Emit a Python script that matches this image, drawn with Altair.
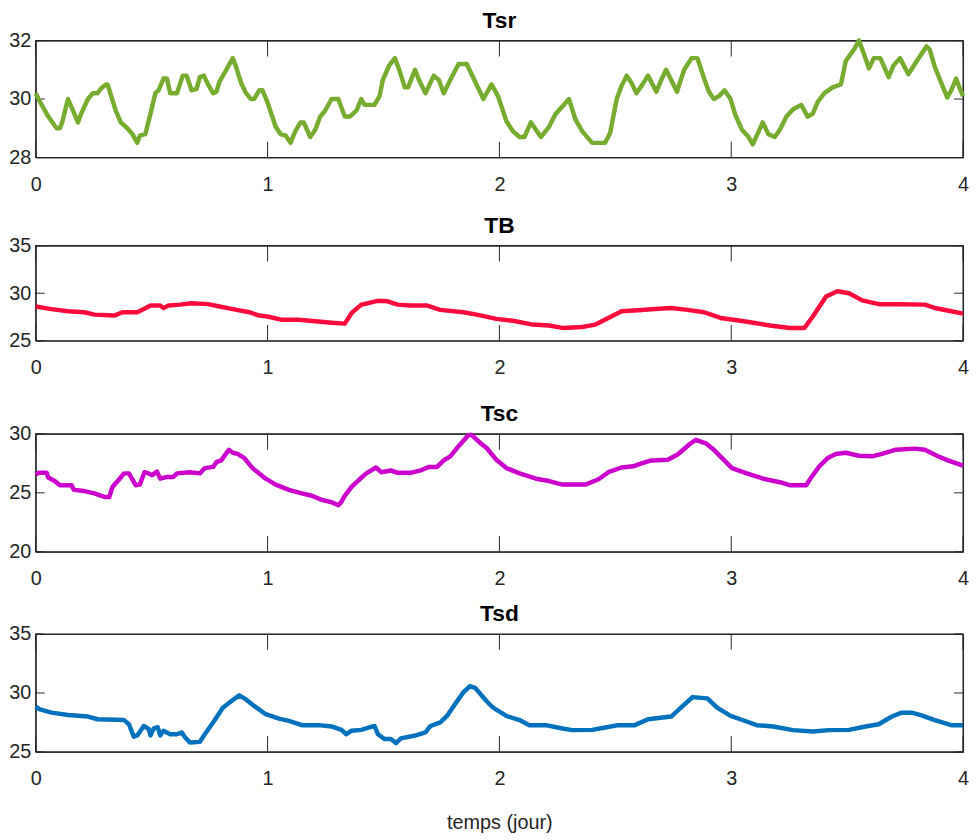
import altair as alt
import pandas as pd

# ---------------- data (time in days, temperature) ----------------
t_tsr = [0.000, 0.012, 0.054, 0.090, 0.104, 0.114, 0.139, 0.161, 0.182, 0.196, 0.225, 0.246, 0.267, 0.281,
         0.303, 0.310, 0.345, 0.367, 0.395, 0.417, 0.438, 0.449, 0.473, 0.495, 0.516, 0.530, 0.551, 0.566,
         0.580, 0.609, 0.634, 0.651, 0.672, 0.694, 0.708, 0.725, 0.743, 0.765, 0.779, 0.793, 0.822, 0.836,
         0.850, 0.864, 0.886, 0.907, 0.928, 0.942, 0.964, 0.978, 0.999, 1.020, 1.035, 1.056, 1.078, 1.099,
         1.120, 1.142, 1.156, 1.184, 1.206, 1.227, 1.248, 1.276, 1.305, 1.333, 1.355, 1.383, 1.404, 1.419,
         1.461, 1.483, 1.497, 1.525, 1.549, 1.568, 1.592, 1.606, 1.636, 1.653, 1.681, 1.717, 1.739, 1.760,
         1.788, 1.824, 1.859, 1.895, 1.931, 1.966, 1.994, 2.030, 2.058, 2.087, 2.108, 2.136, 2.179, 2.214,
         2.243, 2.278, 2.300, 2.328, 2.357, 2.400, 2.456, 2.478, 2.506, 2.527, 2.549, 2.570, 2.591, 2.613,
         2.641, 2.677, 2.698, 2.719, 2.741, 2.766, 2.797, 2.829, 2.854, 2.883, 2.904, 2.925, 2.947, 2.971,
         2.997, 3.018, 3.046, 3.075, 3.093, 3.113, 3.136, 3.160, 3.188, 3.210, 3.238, 3.267, 3.302, 3.330,
         3.352, 3.373, 3.402, 3.437, 3.473, 3.494, 3.530, 3.551, 3.572, 3.594, 3.615, 3.643, 3.679, 3.700,
         3.728, 3.764, 3.792, 3.842, 3.856, 3.878, 3.906, 3.932, 3.949, 3.970, 3.984, 4.000]
v_tsr = [30.2, 30.0, 29.4, 29.0, 29.0, 29.2, 30.0, 29.6, 29.2, 29.5, 30.0, 30.2, 30.2, 30.35,
         30.5, 30.5, 29.6, 29.2, 29.0, 28.8, 28.5, 28.75, 28.8, 29.5, 30.2, 30.3, 30.7, 30.7,
         30.2, 30.2, 30.8, 30.8, 30.3, 30.35, 30.75, 30.8, 30.5, 30.2, 30.25, 30.6, 31.0, 31.2,
         31.4, 31.1, 30.55, 30.2, 30.0, 30.0, 30.3, 30.3, 29.9, 29.4, 29.05, 28.8, 28.75, 28.5,
         28.9, 29.2, 29.2, 28.7, 28.95, 29.4, 29.6, 30.0, 30.0, 29.4, 29.4, 29.6, 30.0, 29.8,
         29.8, 30.1, 30.65, 31.15, 31.4, 31.0, 30.4, 30.4, 31.0, 30.65, 30.2, 30.8, 30.65, 30.2,
         30.65, 31.2, 31.2, 30.6, 30.0, 30.5, 30.1, 29.25, 28.9, 28.7, 28.7, 29.2, 28.7, 29.05,
         29.5, 29.8, 30.0, 29.3, 28.9, 28.5, 28.5, 28.85, 30.0, 30.45, 30.8, 30.55, 30.2, 30.45,
         30.8, 30.25, 30.65, 31.0, 30.65, 30.25, 31.0, 31.4, 31.4, 30.7, 30.25, 30.0, 30.1, 30.3,
         30.0, 29.45, 28.95, 28.7, 28.45, 28.8, 29.2, 28.8, 28.7, 28.95, 29.4, 29.65, 29.8, 29.4,
         29.5, 29.9, 30.2, 30.4, 30.5, 31.3, 31.7, 32.0, 31.55, 31.05, 31.4, 31.4, 30.75, 31.15,
         31.4, 30.85, 31.2, 31.8, 31.7, 31.1, 30.55, 30.05, 30.3, 30.7, 30.4, 30.1]

t_tb = [0.000, 0.068, 0.139, 0.210, 0.253, 0.338, 0.374, 0.438, 0.466, 0.495, 0.537, 0.551, 0.573, 0.623,
        0.672, 0.743, 0.793, 0.850, 0.921, 0.964, 0.999, 1.063, 1.134, 1.206, 1.276, 1.333, 1.362, 1.404,
        1.433, 1.475, 1.518, 1.561, 1.617, 1.689, 1.745, 1.845, 1.902, 1.987, 2.058, 2.144, 2.214, 2.272,
        2.357, 2.414, 2.470, 2.527, 2.598, 2.670, 2.741, 2.812, 2.883, 2.954, 3.025, 3.082, 3.167, 3.252,
        3.316, 3.352, 3.409, 3.458, 3.508, 3.565, 3.636, 3.722, 3.835, 3.878, 3.949, 4.000]
v_tb = [28.6, 28.33, 28.1, 28.0, 27.75, 27.65, 28.0, 28.0, 28.33, 28.7, 28.7, 28.45, 28.7, 28.8,
        28.95, 28.85, 28.6, 28.33, 28.0, 27.65, 27.55, 27.2, 27.2, 27.05, 26.9, 26.8, 27.9, 28.8,
        28.95, 29.2, 29.15, 28.8, 28.7, 28.7, 28.25, 28.0, 27.75, 27.3, 27.1, 26.7, 26.6, 26.35,
        26.45, 26.7, 27.4, 28.1, 28.2, 28.33, 28.45, 28.25, 28.0, 27.4, 27.15, 26.95, 26.6, 26.35,
        26.35, 27.55, 29.65, 30.2, 30.0, 29.25, 28.85, 28.85, 28.8, 28.45, 28.1, 27.85]

t_tsc = [0.000, 0.012, 0.047, 0.054, 0.082, 0.104, 0.154, 0.165, 0.210, 0.253, 0.296, 0.317, 0.331, 0.360,
         0.381, 0.402, 0.431, 0.449, 0.469, 0.487, 0.502, 0.523, 0.537, 0.566, 0.594, 0.609, 0.665, 0.708,
         0.729, 0.765, 0.779, 0.800, 0.833, 0.850, 0.871, 0.900, 0.935, 0.964, 0.992, 1.035, 1.092, 1.148,
         1.191, 1.234, 1.276, 1.305, 1.319, 1.333, 1.362, 1.397, 1.426, 1.468, 1.490, 1.532, 1.561, 1.617,
         1.660, 1.696, 1.731, 1.760, 1.788, 1.817, 1.867, 1.881, 1.916, 1.945, 1.987, 2.030, 2.087, 2.158,
         2.214, 2.272, 2.371, 2.428, 2.470, 2.527, 2.577, 2.613, 2.655, 2.726, 2.769, 2.819, 2.847, 2.890,
         2.925, 2.968, 3.003, 3.067, 3.138, 3.210, 3.252, 3.323, 3.345, 3.380, 3.416, 3.451, 3.494, 3.551,
         3.608, 3.650, 3.707, 3.792, 3.835, 3.892, 3.934, 4.000]
v_tsc = [26.55, 26.7, 26.7, 26.3, 26.0, 25.65, 25.65, 25.25, 25.15, 24.95, 24.65, 24.65, 25.5, 26.15,
         26.65, 26.65, 25.65, 25.7, 26.75, 26.65, 26.5, 26.8, 26.2, 26.35, 26.35, 26.65, 26.75, 26.65,
         27.1, 27.2, 27.6, 27.75, 28.65, 28.4, 28.3, 27.95, 27.1, 26.65, 26.2, 25.7, 25.25, 24.95,
         24.75, 24.4, 24.2, 23.95, 24.25, 24.75, 25.5, 26.15, 26.65, 27.15, 26.75, 26.9, 26.7, 26.7,
         26.9, 27.2, 27.2, 27.75, 28.1, 28.8, 29.9, 29.9, 29.25, 28.8, 27.8, 27.1, 26.65, 26.2,
         26.0, 25.7, 25.7, 26.15, 26.75, 27.15, 27.25, 27.5, 27.75, 27.8, 28.25, 29.1, 29.5, 29.2,
         28.65, 27.8, 27.1, 26.65, 26.2, 25.9, 25.65, 25.65, 26.3, 27.25, 27.95, 28.3, 28.4, 28.15,
         28.1, 28.3, 28.65, 28.75, 28.65, 28.1, 27.75, 27.3]

t_tsd = [0.000, 0.018, 0.068, 0.139, 0.225, 0.267, 0.381, 0.402, 0.423, 0.438, 0.466, 0.487, 0.495, 0.509,
         0.526, 0.537, 0.551, 0.580, 0.609, 0.630, 0.644, 0.665, 0.708, 0.729, 0.765, 0.807, 0.843, 0.878,
         0.907, 0.942, 0.992, 1.049, 1.092, 1.148, 1.220, 1.276, 1.319, 1.340, 1.362, 1.404, 1.461, 1.476,
         1.504, 1.532, 1.554, 1.575, 1.632, 1.681, 1.703, 1.745, 1.774, 1.803, 1.845, 1.873, 1.895, 1.945,
         1.973, 2.030, 2.087, 2.129, 2.200, 2.272, 2.314, 2.400, 2.456, 2.513, 2.584, 2.641, 2.741, 2.783,
         2.833, 2.897, 2.939, 2.997, 3.039, 3.110, 3.181, 3.267, 3.352, 3.423, 3.508, 3.579, 3.636, 3.693,
         3.735, 3.778, 3.821, 3.878, 3.949, 4.000]
v_tsd = [28.84, 28.6, 28.33, 28.13, 28.0, 27.77, 27.7, 27.35, 26.3, 26.4, 27.2, 26.95, 26.4, 27.0,
         27.1, 26.4, 26.8, 26.5, 26.5, 26.65, 26.25, 25.8, 25.85, 26.5, 27.5, 28.75, 29.3, 29.8,
         29.45, 28.9, 28.2, 27.83, 27.63, 27.27, 27.27, 27.16, 26.87, 26.5, 26.8, 26.87, 27.2, 26.5,
         26.1, 26.1, 25.75, 26.15, 26.37, 26.65, 27.2, 27.5, 28.05, 28.9, 30.07, 30.57, 30.44, 29.3,
         28.75, 28.05, 27.7, 27.27, 27.27, 26.99, 26.85, 26.87, 27.07, 27.27, 27.27, 27.77, 28.0, 28.75,
         29.65, 29.54, 28.75, 28.05, 27.77, 27.27, 27.16, 26.85, 26.74, 26.85, 26.87, 27.16, 27.35, 28.0,
         28.33, 28.33, 28.1, 27.7, 27.27, 27.27]

x_ticks = [0, 1, 2, 3, 4]
y_ticks_tsr = [28, 30, 32]
y_ticks_tb = [25, 30, 35]
y_ticks_tsc = [20, 25, 30]
y_ticks_tsd = [25, 30, 35]

# ---------------- styling ----------------
FONT = "Liberation Sans"
AX = "#262626"
W = 936


def panel(title, t, v, color, ydom, yticks, h, xtitle=""):
    df = pd.DataFrame({"t": t, "v": v})
    xs = alt.Scale(domain=[0, 4], nice=False, zero=False)
    ys = alt.Scale(domain=ydom, nice=False, zero=False)
    xkw = dict(values=x_ticks, ticks=False, domain=False, grid=False, labelPadding=17,
               labelFlush=False, labelFontSize=20, labelFont=FONT, labelColor=AX, format="d")
    if xtitle:
        xkw.update(title=xtitle, titleFont=FONT, titleFontSize=20, titleFontWeight="normal",
                   titleColor=AX, titlePadding=24)
    else:
        xkw.update(title="")
    xaxis = alt.Axis(**xkw)
    yaxis = alt.Axis(values=yticks, ticks=False, domain=False, grid=False, labelPadding=5,
                     labelFlush=False, labelFontSize=20, labelFont=FONT, labelColor=AX,
                     title="", format="d")
    X = alt.X("t:Q", scale=xs, axis=xaxis)
    Y = alt.Y("v:Q", scale=ys, axis=yaxis)
    line = alt.Chart(df).mark_line(color=color, strokeWidth=4.5, strokeJoin="round").encode(x=X, y=Y)
    xt = pd.DataFrame({"t": x_ticks})
    yt = pd.DataFrame({"v": yticks})
    frame = alt.Chart(pd.DataFrame({"t": [0]})).mark_rect(
        filled=False, stroke=AX, strokeWidth=1.2).encode(
        x=alt.value(0), x2=alt.value(W), y=alt.value(0), y2=alt.value(h))
    top = alt.Chart(xt).mark_tick(color=AX, thickness=1, size=16, opacity=1).encode(
        x=X, y=alt.value(8))
    bot = alt.Chart(xt).mark_tick(color=AX, thickness=1, size=16, opacity=1).encode(
        x=X, y=alt.value(h - 8))
    left = alt.Chart(yt).mark_tick(color=AX, thickness=1, size=9, opacity=1).encode(
        y=Y, x=alt.value(4.5))
    right = alt.Chart(yt).mark_tick(color=AX, thickness=1, size=9, opacity=1).encode(
        y=Y, x=alt.value(W - 4.5))
    return alt.layer(frame, top, bot, left, right, line).properties(
        width=W, height=h,
        title=alt.TitleParams(title, font=FONT, fontSize=23, fontWeight="bold", color="black",
                              offset=-2),
    )


p1 = panel("Tsr", t_tsr, v_tsr, "#77AC30", [28, 32], y_ticks_tsr, 118)
p2 = panel("TB", t_tb, v_tb, "#FF0A3C", [25, 35], y_ticks_tb, 96)
p3 = panel("Tsc", t_tsc, v_tsc, "#CC00CC", [20, 30], y_ticks_tsc, 119)
p4 = panel("Tsd", t_tsd, v_tsd, "#0072BD", [25, 35], y_ticks_tsd, 119, xtitle="temps (jour)")

chart = alt.vconcat(
    alt.vconcat(p1, p2, spacing=19),
    alt.vconcat(p3, p4, spacing=13),
    spacing=24,
).properties(
    padding={"left": 0, "top": -3, "right": 0, "bottom": 0},
    background="white",
).configure_view(stroke=AX, strokeWidth=1)

chart.save("out.html", embed_options={"renderer": "svg", "actions": False})
